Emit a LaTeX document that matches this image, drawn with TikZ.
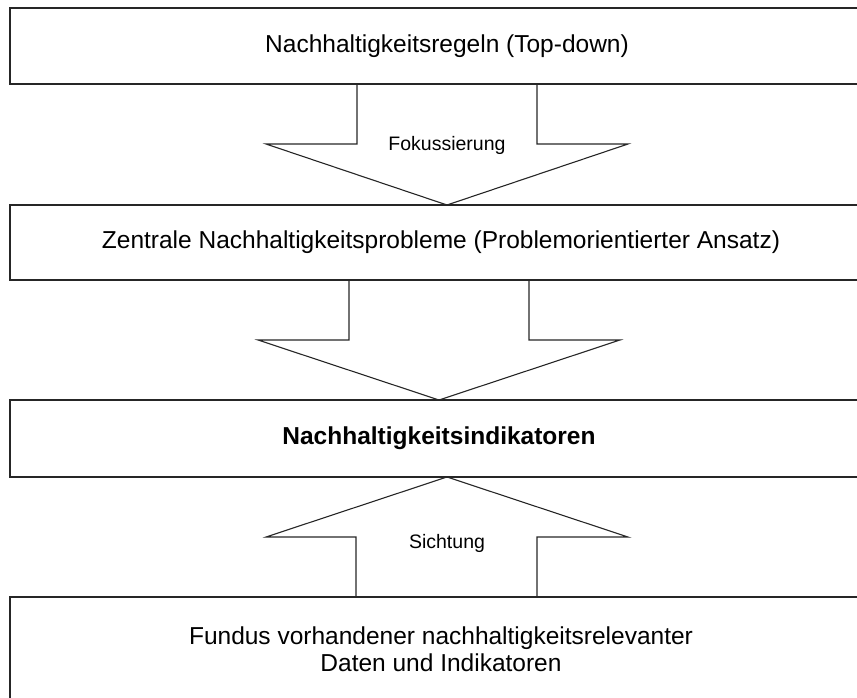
\documentclass[tikz,border=0pt]{standalone}
\usepackage{fontspec}
\setmainfont{Liberation Sans}
\begin{document}
\begin{tikzpicture}[x=1pt,y=-1pt,
  line width=1.1pt,
  stage/.style={draw=black!85, minimum height=#1, inner sep=0pt, font=\fontsize{24.5}{28}\selectfont, align=center},
  flow/.style={draw=black!85, line join=miter},
  flowlabel/.style={font=\fontsize{19.5}{22}\selectfont, inner sep=0pt}]
\useasboundingbox (0,0) rectangle (857,698);
\clip (0,0) rectangle (857,698);

% stages, each open to the right beyond the page edge
\node[stage=76pt, minimum width=874pt] (rules) at (447,46) {Nachhaltigkeitsregeln (Top-down)};
\node[stage=75pt, minimum width=862pt] (probs) at (441,242.5) {Zentrale Nachhaltigkeitsprobleme (Problemorientierter Ansatz)};
\node[stage=77pt, minimum width=858pt] (ind) at (439,438.5) {\bfseries Nachhaltigkeitsindikatoren};
\node[stage=150pt, minimum width=862pt] (fund) at (441,672) {};
\node[font=\fontsize{24.5}{27.5}\selectfont, align=center, inner sep=0pt] (fundtext) at (441,649)
  {Fundus vorhandener nachhaltigkeitsrelevanter\\Daten und Indikatoren};

% block arrow: rules -> problems
\coordinate (a1) at (447,205);
\draw[flow] (357,0 |- rules.south) -- (357,144) -- (266,144) -- (a1) -- (628,144) -- (537,144) -- (537,0 |- rules.south);
\node[flowlabel] (fok) at (447,145) {Fokussierung};

% block arrow: problems -> indicators
\coordinate (a2) at (439,400);
\draw[flow] (349,0 |- probs.south) -- (349,340) -- (258,340) -- (a2) -- (620,340) -- (529,340) -- (529,0 |- probs.south);

% block arrow: data pool -> indicators (upwards)
\coordinate (a3) at (447,477);
\draw[flow] (356,0 |- fund.north) -- (356,537) -- (266,537) -- (a3) -- (628,537) -- (537,537) -- (537,0 |- fund.north);
\node[flowlabel] (sicht) at (447,543) {Sichtung};
\end{tikzpicture}
\end{document}
